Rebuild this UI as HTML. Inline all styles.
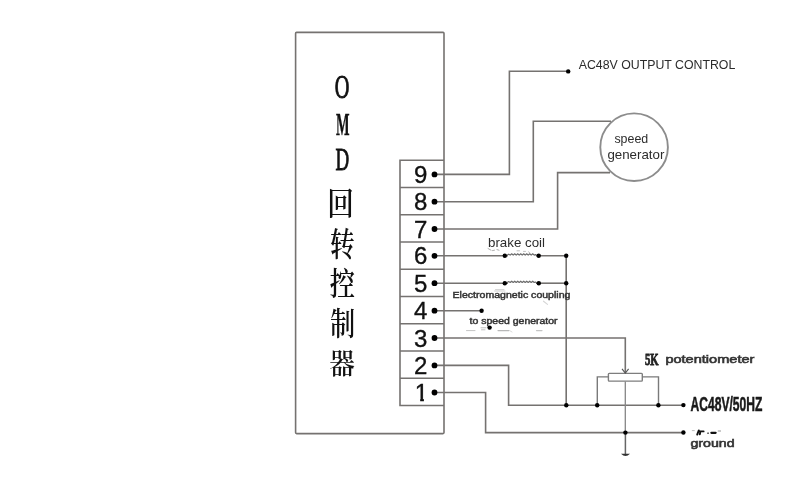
<!DOCTYPE html>
<html lang="en"><head><meta charset="utf-8"><title>OMD wiring diagram</title>
<style>
html,body{margin:0;padding:0;background:#fff;}
body{width:790px;height:490px;overflow:hidden;font-family:"Liberation Sans","Noto Sans CJK SC",sans-serif;}
svg{display:block;filter:blur(0.5px);}
</style></head><body>
<svg width="790" height="490" viewBox="0 0 790 490">
<g fill="none" stroke="#757270" stroke-width="1.6">
<rect x="295.6" y="32.4" width="148.4" height="401.2" rx="1"/>
<path d="M444 160.3H400V405.5H444"/>
<path d="M400 187.5H444"/>
<path d="M400 214.8H444"/>
<path d="M400 242.0H444"/>
<path d="M400 269.3H444"/>
<path d="M400 296.5H444"/>
<path d="M400 323.7H444"/>
<path d="M400 351.0H444"/>
<path d="M400 378.2H444"/>
</g>
<g fill="none" stroke="#757270" stroke-width="1.6" stroke-linejoin="miter">
<path d="M434.5 174.4H509.4V71.3H568.2"/>
<path d="M434.5 201.7H533.3V121.2H611"/>
<path d="M434.5 229.0H557.6V172.6H610"/>
<path d="M434.5 255.8H508"/>
<path d="M536 255.8H566.2V405.2"/>
<path d="M434.5 283.2H508"/>
<path d="M536 283.2H566.2"/>
<path d="M434.5 310.7H481.6"/>
<path d="M434.5 338.0H625.3V372.5"/>
<path d="M434.5 365.4H508.6V405.2H683.4"/>
<path d="M434.5 392.5H485.6V432.6H683.4"/>
<rect x="608.4" y="373.4" width="33.9" height="7.7" rx="0.8" stroke-width="1.4" stroke="#7e7e7e"/>
<path d="M608.4 376.9H597.3V405.2" stroke-width="1.4" stroke="#7a7a7a"/>
<path d="M642.3 376.9H658.5V405.2" stroke-width="1.4" stroke="#7a7a7a"/>
<path d="M622 368.8L625.3 373L628.6 368.8" stroke-width="1.1" stroke="#555"/>
</g>
<path d="M625.3 381.4V432.5" stroke="#858585" stroke-width="1.3" fill="none"/>
<path d="M625.4 432.5V454" stroke="#666" stroke-width="1.5" fill="none"/>
<path d="M621 453.7H630Q625.5 458.2 621 453.7Z" fill="#333"/>
<path d="M506.5 255.60 L508.7 254.20 L510.2 255.10 L511.7 253.80 L513.2 255.10 L514.7 253.80 L516.2 255.10 L517.7 253.80 L519.2 255.10 L520.7 253.80 L522.2 255.10 L523.7 253.80 L525.2 255.10 L526.7 253.80 L528.2 255.10 L529.7 253.80 L531.2 255.10 L532.7 253.80 L534.2 255.10 L535.5 254.60 L537 255.60" fill="none" stroke="#6a6a6a" stroke-width="1.15" stroke-linejoin="round"/>
<path d="M506.5 283.00 L508.7 281.60 L510.2 282.50 L511.7 281.20 L513.2 282.50 L514.7 281.20 L516.2 282.50 L517.7 281.20 L519.2 282.50 L520.7 281.20 L522.2 282.50 L523.7 281.20 L525.2 282.50 L526.7 281.20 L528.2 282.50 L529.7 281.20 L531.2 282.50 L532.7 281.20 L534.2 282.50 L535.5 282.00 L537 283.00" fill="none" stroke="#6a6a6a" stroke-width="1.15" stroke-linejoin="round"/>
<circle cx="634.1" cy="147.2" r="33.8" fill="#fff" stroke="#8c8c8c" stroke-width="1.9"/>
<g fill="none" stroke-linecap="round">
<path d="M466.5 330.6H475" stroke="#c4c4c4" stroke-width="1"/>
<path d="M481 327.8H486M481.5 329.8H485" stroke="#b5b5b5" stroke-width="0.9"/>
<path d="M498 330.6H509" stroke="#b8b8b8" stroke-width="1.1"/>
<path d="M510 330.8L512 332" stroke="#d0d0d0" stroke-width="0.8"/>
<path d="M536.5 330.6H542" stroke="#c4c4c4" stroke-width="1.2"/>
<path d="M494.5 291H505M495.5 289.6H504" stroke="#cdcdcd" stroke-width="0.9"/>
<path d="M543.5 301.2L547.5 304.4" stroke="#d6d6d6" stroke-width="1.2"/>
<path d="M488 248.5L491 250.2M492.5 250.6L494.5 250.2M497 249.6L499 250.2" stroke="#9a9a9a" stroke-width="0.8"/>
<path d="M517 250.8H519.5M523.5 251.4H525.5M528.5 251.8L530 253" stroke="#b0b0b0" stroke-width="0.8"/>
</g>
<g fill="none" stroke-linecap="round">
<path d="M692.3 430.6H694.3" stroke="#aaa" stroke-width="0.8"/>
<path d="M697.2 434.6L698.8 430.4M699.8 434.4L700.4 431.2L703.6 431.4" stroke="#111" stroke-width="1.9"/>
<path d="M707.8 433.2H708.3" stroke="#222" stroke-width="1.3"/>
<path d="M711.4 432.8H715.6" stroke="#111" stroke-width="2.3"/>
<path d="M718.2 431H720.6" stroke="#888" stroke-width="0.9"/>
</g>
<g fill="#000">
<circle cx="434.5" cy="174.4" r="2.9"/>
<circle cx="434.5" cy="201.7" r="2.9"/>
<circle cx="434.5" cy="229.0" r="2.9"/>
<circle cx="434.5" cy="255.8" r="2.9"/>
<circle cx="434.5" cy="283.2" r="2.9"/>
<circle cx="434.5" cy="310.7" r="2.9"/>
<circle cx="434.5" cy="338.0" r="2.9"/>
<circle cx="434.5" cy="365.4" r="2.9"/>
<circle cx="434.5" cy="392.5" r="2.9"/>
<circle cx="568.2" cy="71.4" r="2.2"/>
<circle cx="504.8" cy="255.8" r="2.2"/>
<circle cx="538.7" cy="255.8" r="2.2"/>
<circle cx="566.2" cy="255.8" r="2.2"/>
<circle cx="504.8" cy="283.2" r="2.2"/>
<circle cx="538.8" cy="283.2" r="2.2"/>
<circle cx="566.2" cy="283.2" r="2.2"/>
<circle cx="481.6" cy="310.7" r="2.2"/>
<circle cx="489.6" cy="327.6" r="2.2"/>
<circle cx="566.3" cy="405.2" r="2.2"/>
<circle cx="597.2" cy="405.2" r="2.2"/>
<circle cx="658.4" cy="405.2" r="2.2"/>
<circle cx="683.4" cy="405.1" r="2.2"/>
<circle cx="625.4" cy="432.6" r="2.2"/>
<circle cx="683.4" cy="432.5" r="2.2"/>
</g>
<g font-family="'Liberation Sans', sans-serif" font-size="24" fill="#111" stroke="#111" stroke-width="0.35" text-anchor="middle">
<clipPath id="one"><path d="M412 380H423.9V403H420.2V398.7H412Z"/></clipPath>
<text x="420.6" y="182.9">9</text>
<text x="420.6" y="210.2">8</text>
<text x="420.6" y="237.5">7</text>
<text x="420.6" y="264.3">6</text>
<text x="420.6" y="291.7">5</text>
<text x="420.6" y="319.2">4</text>
<text x="420.6" y="346.5">3</text>
<text x="420.6" y="373.9">2</text>
<text x="421.5" y="401.0" clip-path="url(#one)">1</text>
</g>
<text transform="matrix(0.844 0 0 1.373 334.87 98.31)" font-family="'Liberation Serif', serif" font-weight="400" font-size="24" fill="#111" stroke="#111" stroke-width="0.7">O</text>
<text transform="matrix(0.598 0 0 1.323 336.05 134.67)" font-family="'Liberation Serif', serif" font-weight="700" font-size="24" fill="#111" stroke="#111" stroke-width="0.3">M</text>
<text transform="matrix(0.788 0 0 1.333 335.60 170.33)" font-family="'Liberation Serif', serif" font-weight="400" font-size="24" fill="#111" stroke="#111" stroke-width="0.7">D</text>
<text transform="matrix(1.023 0 0 1.222 327.19 214.96)" font-family="'Liberation Serif', 'Noto Serif CJK SC', serif" font-weight="600" font-size="26" fill="#111">回</text>
<text transform="matrix(0.948 0 0 1.254 330.05 255.58)" font-family="'Liberation Serif', 'Noto Serif CJK SC', serif" font-weight="600" font-size="26" fill="#111">转</text>
<text transform="matrix(0.971 0 0 1.237 329.87 295.22)" font-family="'Liberation Serif', 'Noto Serif CJK SC', serif" font-weight="600" font-size="26" fill="#111">控</text>
<text transform="matrix(0.958 0 0 1.208 330.28 335.28)" font-family="'Liberation Serif', 'Noto Serif CJK SC', serif" font-weight="600" font-size="26" fill="#111">制</text>
<text transform="matrix(0.986 0 0 1.112 329.26 373.90)" font-family="'Liberation Serif', 'Noto Serif CJK SC', serif" font-weight="600" font-size="26" fill="#111">器</text>
<text font-family="'Liberation Sans', sans-serif" font-size="13" fill="#2c2c2c" x="578.7" y="69.4" textLength="156.6" lengthAdjust="spacingAndGlyphs">AC48V OUTPUT CONTROL</text>
<text font-family="'Liberation Sans', sans-serif" font-size="13" fill="#2c2c2c" x="614.4" y="143" textLength="33.8" lengthAdjust="spacingAndGlyphs">speed</text>
<text font-family="'Liberation Sans', sans-serif" font-size="13" fill="#2c2c2c" x="607.4" y="159" textLength="57" lengthAdjust="spacingAndGlyphs">generator</text>
<text font-family="'Liberation Sans', sans-serif" font-size="13" fill="#2c2c2c" x="488" y="247.1" textLength="57" lengthAdjust="spacingAndGlyphs">brake coil</text>
<text font-family="'Liberation Sans', sans-serif" font-size="9.1" fill="#333" stroke="#333" stroke-width="0.45" x="452.6" y="298" textLength="117.8" lengthAdjust="spacingAndGlyphs">Electromagnetic coupling</text>
<text font-family="'Liberation Sans', sans-serif" font-size="9.1" fill="#333" stroke="#333" stroke-width="0.45" x="469.6" y="323.6" textLength="88" lengthAdjust="spacingAndGlyphs">to speed generator</text>
<text font-family="'Liberation Sans', sans-serif" font-size="11.5" fill="#333" stroke="#333" stroke-width="0.6" x="665.4" y="363.4" textLength="89" lengthAdjust="spacingAndGlyphs">potentiometer</text>
<text font-family="'Liberation Sans', sans-serif" font-size="11.7" fill="#333" stroke="#333" stroke-width="0.6" x="690.4" y="447.3" textLength="44.2" lengthAdjust="spacingAndGlyphs">ground</text>
<text font-family="'Liberation Serif', serif" font-weight="bold" font-size="17.5" fill="#222" stroke="#222" stroke-width="0.9" x="645" y="365.4" textLength="13.6" lengthAdjust="spacingAndGlyphs">5K</text>
<text font-family="'Liberation Sans', sans-serif" font-size="20" font-weight="bold" fill="#1a1a1a" stroke="#1a1a1a" stroke-width="0.55" x="690.6" y="411" textLength="71.8" lengthAdjust="spacingAndGlyphs">AC48V/50HZ</text>
</svg>
</body></html>
